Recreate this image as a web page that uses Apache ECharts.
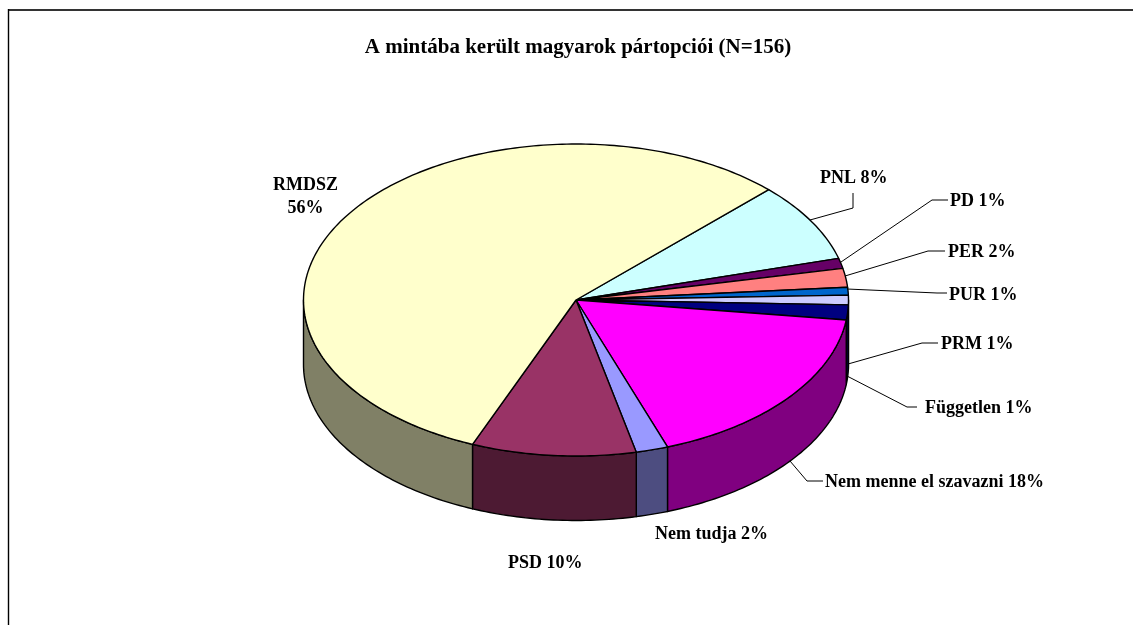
<!DOCTYPE html>
<html><head><meta charset="utf-8">
<style>html,body{margin:0;padding:0;background:#fff}#c{width:1133px;height:625px}</style>
<script src="https://cdn.jsdelivr.net/npm/echarts@6/dist/echarts.min.js"></script>
</head><body><div id="c"></div>
<script>
var titleText = 'A mintába került magyarok pártopciói (N=156)';
var categories = ['PNL','PD','PER','PUR','PRM','Független','Nem menne el szavazni','Nem tudja','PSD','RMDSZ'];
var values = [8.2,1.05,1.95,0.8,1.0,1.55,17.5,1.9,9.75,56.3];
var labels = ['PNL 8%','PD 1%','PER 2%','PUR 1%','PRM 1%','Független 1%','Nem menne el szavazni 18%','Nem tudja 2%','PSD 10%','RMDSZ\n56%'];
var topColors = ['#CCFFFF','#660066','#FF8080','#0066CC','#CCCCFF','#000080','#FF00FF','#9999FF','#993366','#FFFFCC'];
var wallColors = ['#668080','#330033','#804040','#003366','#666680','#000040','#800080','#4D4D80','#4D1A33','#808066'];

// Layout of the tilted pie and of its labels
var pie = {cx:576, cy:300, rx:272.5, ry:156, depth:64.5, startAngle:45};
var labelLayout = [
  {x:820,y:178,leader:[[810,220],[853,208],[853,193]]},
  {x:950,y:201,leader:[[841,262],[932,200],[948,200]]},
  {x:948,y:252,leader:[[845,276],[928,251],[945,251]]},
  {x:949,y:295,leader:[[847,289],[937,293],[947,293]]},
  {x:941,y:344,leader:[[848,364],[922,343],[938,343]]},
  {x:925,y:408,leader:[[847,376],[907,407],[917,407]]},
  {x:825,y:482,leader:[[790,461],[807,481],[823,481]]},
  {x:655,y:534},
  {x:508,y:563},
  {x:305.5,y:197,align:'center'}
];
var FONT = '"Liberation Serif","Times New Roman",serif';

var total = values.reduce(function(a,b){return a+b;},0);
function sliceRange(i){
  var s = 0;
  for (var k=0;k<i;k++) s += values[k];
  return [pie.startAngle + s/total*360, pie.startAngle + (s+values[i])/total*360];
}
function pt(deg, dy){
  var a = deg*Math.PI/180;
  return [pie.cx + pie.rx*Math.sin(a), pie.cy - pie.ry*Math.cos(a) + (dy||0)];
}
function arc(a0,a1,dy){
  var n = Math.max(2, Math.ceil(Math.abs(a1-a0)/1)), out=[];
  for (var j=0;j<=n;j++) out.push(pt(a0+(a1-a0)*j/n, dy));
  return out;
}
function clipWall(r){
  var a0 = Math.max(r[0],90), a1 = Math.min(r[1],270);
  return a1>a0 ? [a0,a1] : null;
}
var stroke = {stroke:'#000', lineWidth:1.4, lineJoin:'round'};
function renderWall(params){
  var i = params.dataIndex, w = clipWall(sliceRange(i));
  if (!w) return {type:'group',children:[]};
  var pts = arc(w[0],w[1],0).concat(arc(w[1],w[0],pie.depth));
  return {type:'polygon', shape:{points:pts},
    style:Object.assign({fill:wallColors[i]},stroke)};
}
function renderTop(params){
  var i = params.dataIndex, r = sliceRange(i);
  var pts = [[pie.cx,pie.cy]].concat(arc(r[0],r[1],0));
  return {type:'polygon', shape:{points:pts},
    style:Object.assign({fill:topColors[i]},stroke)};
}
function renderLabel(params){
  var i = params.dataIndex, l = labelLayout[i], kids = [];
  if (l.leader) kids.push({type:'polyline', shape:{points:l.leader},
    style:{fill:null, stroke:'#000', lineWidth:1}});
  kids.push({type:'text', x:l.x, y:l.y, style:{
    text:labels[i], fill:'#000', font:'bold 18px '+FONT,
    textAlign:l.align||'left', textVerticalAlign:'middle', lineHeight:23}});
  return {type:'group', children:kids};
}
var rows = categories.map(function(c,i){return {name:c, value:[values[i],i]};});
var chart = echarts.init(document.getElementById('c'),null,{renderer:'canvas'});
chart.setOption({
  animation:false,
  backgroundColor:'#fff',
  tooltip:{show:false},
  title:{text:titleText, left:573, top:32, textAlign:'center',
    textStyle:{fontFamily:FONT, fontWeight:'bold', fontSize:21, color:'#000'}},
  graphic:[
    {type:'line', shape:{x1:8,y1:10,x2:1133,y2:10}, style:{stroke:'#333',lineWidth:2}},
    {type:'line', shape:{x1:8.5,y1:9,x2:8.5,y2:625}, style:{stroke:'#000',lineWidth:1.4}}
  ],
  series:[
    {type:'custom', coordinateSystem:'none', renderItem:renderWall, data:rows, silent:true, z:2},
    {type:'custom', coordinateSystem:'none', renderItem:renderTop, data:rows, silent:true, z:3},
    {type:'custom', coordinateSystem:'none', renderItem:renderLabel, data:rows, silent:true, z:4}
  ]
});
</script></body></html>
